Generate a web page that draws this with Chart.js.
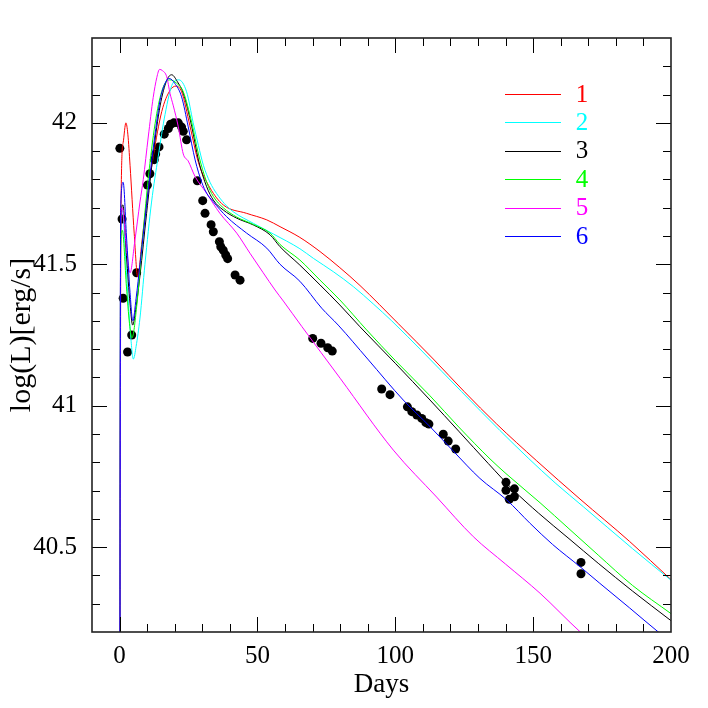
<!DOCTYPE html>
<html>
<head>
<meta charset="utf-8">
<script src="https://cdn.jsdelivr.net/npm/chart.js@4.4.0/dist/chart.umd.min.js"></script>
<style>
  html, body { margin: 0; padding: 0; background: #fff; }
  #wrap { width: 708px; height: 708px; }
</style>
</head>
<body>
<div id="wrap"><canvas id="Cnvs" width="708" height="708"></canvas></div>
<script>
// observed light curve (black dots)
var obsDays = [0.1, 0.9, 1.3, 2.9, 4.4, 6.2, 10.1, 11.0, 12.6, 13.1, 14.3, 16.2, 17.7, 18.5, 19.7, 21.3, 22.5, 23.1, 24.3,
  28.2, 30.15, 31.0, 33.2, 34.0, 36.2, 36.7, 37.6, 38.5, 39.2, 41.9, 43.7,
  70.05, 73.06, 75.5, 77.15, 95.07, 98.08, 104.4, 106.0, 107.8, 109.6, 111.1, 112.2, 117.4, 119.2, 121.9,
  140.15, 140.15, 143.2, 141.35, 143.2, 167.35, 167.35];
var obsLum = [41.91, 41.66, 41.38, 41.19, 41.25, 41.47, 41.78, 41.82, 41.87, 41.89, 41.915, 41.96, 41.98, 41.995, 42.0, 42.0, 41.985, 41.97, 41.94,
  41.795, 41.725, 41.68, 41.64, 41.615, 41.58, 41.562, 41.55, 41.533, 41.52, 41.462, 41.444,
  41.238, 41.221, 41.205, 41.193, 41.059, 41.039, 40.996, 40.979, 40.967, 40.955, 40.94, 40.935, 40.899, 40.875, 40.847,
  40.729, 40.701, 40.706, 40.669, 40.678, 40.446, 40.406];

// models
var m1Days = [0, 0.5, 1.3, 2.3, 3.0, 3.8, 5.3, 6.6, 8.0, 9.8, 12.2, 15.3, 18.3, 20.5, 22.5, 25.5, 28.6, 32.8, 37.6, 46.1, 53.4, 58.2, 65.4, 72.7, 79.9, 87.2, 101.1, 113.8, 125, 136.8, 151.3, 167, 185, 200];
var m1Lum = [39.0, 41.69, 41.93, 42.0, 41.96, 41.85, 41.61, 41.455, 41.57, 41.72, 41.88, 42.04, 42.115, 42.13, 42.11, 41.99, 41.86, 41.77, 41.71, 41.68, 41.657, 41.633, 41.595, 41.545, 41.488, 41.425, 41.29, 41.165, 41.05, 40.935, 40.805, 40.67, 40.52, 40.385];

var m2Days = [0, 0.4, 1.0, 2.5, 4.0, 5.0, 6.0, 7.4, 9.2, 11.6, 14.0, 16.5, 19.3, 21.5, 24.3, 26.7, 28.6, 30.4, 32.8, 35.2, 38.0, 41.2, 48.5, 55.8, 65.4, 70.3, 77.5, 84.8, 92.0, 98.7, 110, 124, 138, 148.2, 158, 168.2, 186, 200];
var m2Lum = [39.0, 41.60, 41.69, 41.47, 41.25, 41.165, 41.21, 41.31, 41.50, 41.72, 41.88, 42.03, 42.14, 42.152, 42.11, 42.0, 41.92, 41.85, 41.79, 41.75, 41.715, 41.686, 41.645, 41.607, 41.555, 41.521, 41.474, 41.421, 41.36, 41.30, 41.19, 41.05, 40.912, 40.815, 40.727, 40.643, 40.495, 40.383];

var m3Days = [0, 0.4, 1.2, 2.5, 3.8, 4.75, 6.0, 7.4, 9.8, 12.2, 14.7, 17.1, 18.9, 21.0, 23.1, 26.2, 28.6, 31.6, 34.0, 37.6, 42.5, 48.5, 54.6, 58.2, 65.4, 72.7, 79.9, 87.2, 100, 112.6, 123, 133.7, 142.8, 152, 163, 173.6, 186, 200];
var m3Lum = [39.0, 41.62, 41.71, 41.53, 41.36, 41.285, 41.35, 41.46, 41.68, 41.89, 42.06, 42.15, 42.17, 42.145, 42.105, 41.986, 41.869, 41.774, 41.727, 41.692, 41.663, 41.639, 41.604, 41.562, 41.497, 41.427, 41.356, 41.279, 41.15, 41.02, 40.91, 40.796, 40.702, 40.62, 40.53, 40.443, 40.345, 40.24];

var m4Days = [0, 0.4, 1.0, 2.5, 3.6, 4.5, 6.2, 8.6, 11.0, 13.5, 15.9, 18.3, 20.7, 23.1, 26.2, 28.6, 31.6, 34.0, 37.6, 42.5, 48.5, 54.6, 58.2, 65.4, 72.7, 79.9, 89.6, 100, 112.6, 123, 134.35, 140.15, 152.5, 163, 173.6, 186, 200];
var m4Lum = [39.0, 41.55, 41.62, 41.42, 41.29, 41.24, 41.35, 41.62, 41.857, 42.034, 42.128, 42.152, 42.14, 42.11, 42.0, 41.89, 41.79, 41.74, 41.70, 41.667, 41.641, 41.61, 41.57, 41.515, 41.444, 41.374, 41.268, 41.16, 41.035, 40.925, 40.812, 40.76, 40.657, 40.565, 40.472, 40.365, 40.265];

var m5Days = [0, 0.4, 0.9, 2.3, 3.8, 5.5, 7.4, 8.6, 10.4, 12.2, 13.5, 14.5, 15.5, 17.1, 18.3, 19.5, 21.3, 23.1, 24.9, 27.4, 31.3, 36.4, 42.5, 47.3, 52.1, 56.4, 59.4, 66.1, 80, 99.3, 115, 128.3, 140, 152.5, 167, 172];
var m5Lum = [39.0, 41.62, 41.70, 41.58, 41.47, 41.58, 41.72, 41.80, 41.95, 42.09, 42.16, 42.189, 42.185, 42.163, 42.104, 42.06, 41.986, 41.89, 41.865, 41.81, 41.755, 41.68, 41.61, 41.539, 41.47, 41.409, 41.37, 41.28, 41.097, 40.843, 40.677, 40.537, 40.44, 40.337, 40.201, 40.16];

var m6Days = [0, 0.4, 1.3, 2.5, 3.8, 4.8, 6.0, 7.4, 9.8, 12.2, 14.7, 16.5, 18.0, 20.0, 22.5, 24.9, 27.4, 29.8, 31.6, 34.0, 38.85, 46.1, 53.4, 58.2, 65.4, 73.3, 79.3, 90, 102.9, 112.6, 121, 130.7, 140.4, 148.9, 157, 167, 174.2, 185, 195.4, 200];
var m6Lum = [39.0, 41.70, 41.79, 41.60, 41.40, 41.30, 41.38, 41.50, 41.71, 41.91, 42.08, 42.14, 42.157, 42.14, 42.092, 41.986, 41.869, 41.79, 41.751, 41.721, 41.668, 41.61, 41.557, 41.50, 41.44, 41.345, 41.285, 41.165, 41.02, 40.926, 40.84, 40.743, 40.667, 40.584, 40.51, 40.431, 40.372, 40.285, 40.2, 40.165];

var modelNames = ['1', '2', '3', '4', '5', '6'];
var modelColors = ['#ff0000', '#00ffff', '#000000', '#00ff00', '#ff00ff', '#0000ff'];
var xTickLabels = [0, 50, 100, 150, 200];
var yTickLabels = [40.5, 41, 41.5, 42];

var FONT = '"Liberation Serif", "DejaVu Serif", serif';
Chart.defaults.font.family = FONT;
Chart.defaults.color = '#000';

function pts(days, lum) {
  return days.map(function(d, i) { return {x: d, y: lum[i]}; });
}

var modelSets = [[m1Days, m1Lum], [m2Days, m2Lum], [m3Days, m3Lum], [m4Days, m4Lum], [m5Days, m5Lum], [m6Days, m6Lum]];
var datasets = modelSets.map(function(m, i) {
  return {
    label: modelNames[i],
    data: pts(m[0], m[1]),
    showLine: true,
    borderColor: modelColors[i],
    borderWidth: 1,
    pointRadius: 0,
    cubicInterpolationMode: 'monotone',
    order: 6 - i
  };
});
datasets.push({
  label: 'data',
  data: pts(obsDays, obsLum),
  showLine: false,
  pointRadius: 4.5,
  pointBorderWidth: 0,
  backgroundColor: '#000',
  order: 10
});

// inward ticks on all four sides, frame and key
var frameTicks = {
  id: 'frameTicks',
  afterDatasetsDraw: function(chart) {
    var ctx = chart.ctx, a = chart.chartArea;
    var xs = chart.scales.x, ys = chart.scales.y;
    ctx.save();
    ctx.strokeStyle = '#000';
    ctx.lineWidth = 1;
    ctx.beginPath();
    for (var d = 0; d < 200; d += 10) {
      var px = Math.round(xs.getPixelForValue(d)) + 0.5;
      var len = (d % 50 === 0) ? 15 : 8;
      ctx.moveTo(px, a.bottom); ctx.lineTo(px, a.bottom - len);
      ctx.moveTo(px, a.top); ctx.lineTo(px, a.top + len);
    }
    for (var k = 403; k <= 422; k++) {
      var py = Math.round(ys.getPixelForValue(k / 10)) + 0.5;
      var l2 = (k % 5 === 0) ? 15 : 8;
      ctx.moveTo(a.left, py); ctx.lineTo(a.left + l2, py);
      ctx.moveTo(a.right, py); ctx.lineTo(a.right - l2, py);
    }
    ctx.stroke();
    ctx.lineWidth = 1.6;
    ctx.strokeStyle = '#222';
    ctx.strokeRect(a.left, a.top, a.right - a.left, a.bottom - a.top);

    ctx.lineWidth = 1;
    ctx.font = '25px ' + FONT;
    ctx.textAlign = 'center';
    ctx.textBaseline = 'middle';
    for (var i = 0; i < modelNames.length; i++) {
      var y = a.top + 56 + i * 28.4;
      ctx.strokeStyle = modelColors[i];
      ctx.beginPath();
      ctx.moveTo(a.right - 166, Math.round(y) + 0.5);
      ctx.lineTo(a.right - 110, Math.round(y) + 0.5);
      ctx.stroke();
      ctx.fillStyle = modelColors[i];
      ctx.fillText(modelNames[i], a.right - 89, y + 1);
    }
    ctx.restore();
  }
};

var Cnvs = document.getElementById('Cnvs');
var chart = new Chart(Cnvs, {
  type: 'scatter',
  data: { datasets: datasets },
  options: {
    responsive: false,
    animation: false,
    devicePixelRatio: 1,
    layout: { padding: { top: 38, right: 37, left: 0, bottom: 0 } },
    plugins: { legend: { display: false }, tooltip: { enabled: false } },
    scales: {
      x: {
        type: 'linear', min: -10, max: 200,
        afterBuildTicks: function(s) { s.ticks = xTickLabels.map(function(v) { return {value: v}; }); },
        afterFit: function(s) { s.height = 76; },
        grid: { display: false, drawTicks: false },
        border: { display: false },
        ticks: { padding: 9, maxRotation: 0, autoSkip: false, font: { size: 25 }, color: '#000',
          callback: function(v) { return String(v); } },
        title: { display: true, text: 'Days', font: { size: 27 }, color: '#000', padding: { top: 0, bottom: 7 } }
      },
      y: {
        type: 'linear', min: 40.2, max: 42.3,
        afterBuildTicks: function(s) { s.ticks = yTickLabels.map(function(v) { return {value: v}; }); },
        afterFit: function(s) { s.width = 92; },
        grid: { display: false, drawTicks: false },
        border: { display: false },
        ticks: { padding: 15, autoSkip: false, font: { size: 25 }, color: '#000',
          callback: function(v) { return String(v); } },
        title: { display: true, text: 'log(L)[erg/s]', font: { size: 30 }, color: '#000', padding: { top: 4, bottom: 0 } }
      }
    }
  },
  plugins: [frameTicks]
});
</script>
</body>
</html>
